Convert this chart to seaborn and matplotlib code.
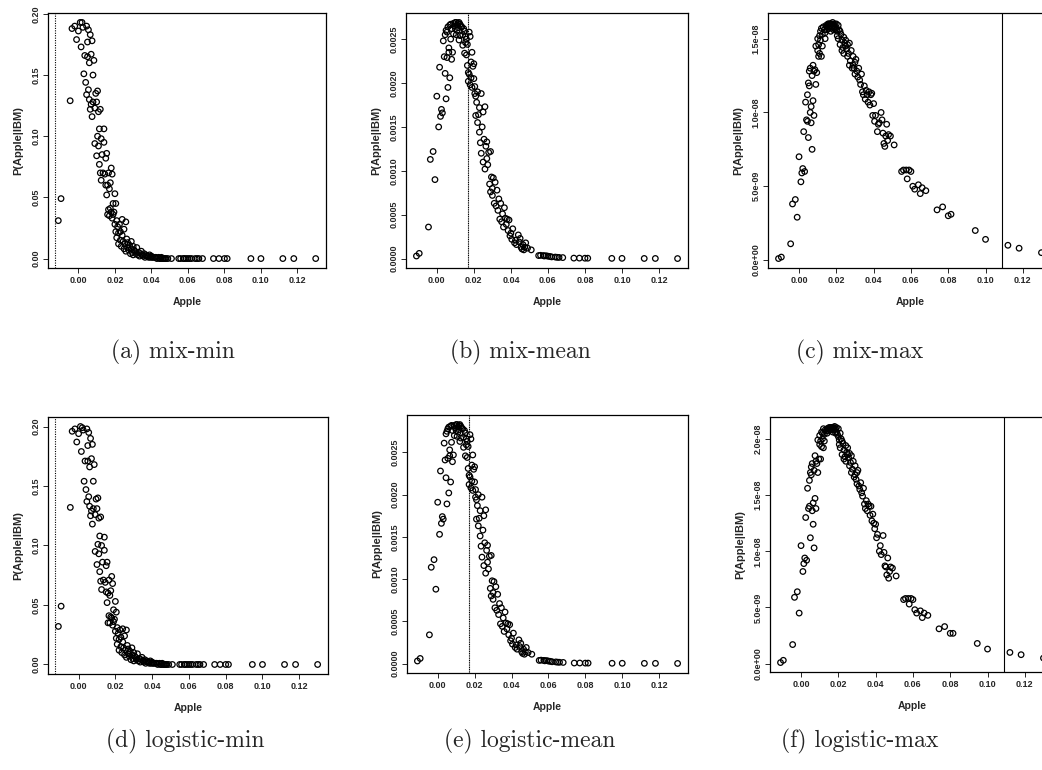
"""
P(Apple|IBM) vs Apple : mix / logistic, min / mean / max
"""

import numpy as np
import pandas as pd
import matplotlib
matplotlib.use('Agg')
import matplotlib.pyplot as plt
import matplotlib.ticker as mticker
import seaborn as sns

sns.set_style("ticks")
plt.rcParams['font.family'] = ['Liberation Sans', 'DejaVu Sans']

# Apple returns (shared x)
apple = [
    -0.0110, -0.0095, -0.0045, -0.0035, -0.0020, -0.0010, 0.0000, 0.0010, 0.0015, 0.0020,
    0.0025, 0.0030, 0.0035, 0.0040, 0.0045, 0.0045, 0.0050, 0.0050, 0.0055, 0.0055,
    0.0060, 0.0060, 0.0065, 0.0065, 0.0070, 0.0070, 0.0075, 0.0075, 0.0080, 0.0080,
    0.0085, 0.0090, 0.0090, 0.0095, 0.0100, 0.0100, 0.0105, 0.0105, 0.0110, 0.0110,
    0.0115, 0.0115, 0.0120, 0.0120, 0.0125, 0.0125, 0.0130, 0.0135, 0.0140, 0.0140,
    0.0145, 0.0150, 0.0150, 0.0155, 0.0155, 0.0160, 0.0160, 0.0165, 0.0165, 0.0170,
    0.0170, 0.0175, 0.0175, 0.0180, 0.0180, 0.0185, 0.0185, 0.0190, 0.0190, 0.0195,
    0.0200, 0.0200, 0.0205, 0.0205, 0.0210, 0.0210, 0.0215, 0.0220, 0.0220, 0.0225,
    0.0230, 0.0230, 0.0235, 0.0240, 0.0240, 0.0245, 0.0250, 0.0250, 0.0255, 0.0260,
    0.0260, 0.0265, 0.0270, 0.0270, 0.0275, 0.0280, 0.0285, 0.0290, 0.0290, 0.0295,
    0.0300, 0.0300, 0.0305, 0.0310, 0.0315, 0.0320, 0.0325, 0.0330, 0.0335, 0.0340,
    0.0345, 0.0350, 0.0355, 0.0360, 0.0365, 0.0370, 0.0375, 0.0380, 0.0385, 0.0390,
    0.0395, 0.0400, 0.0405, 0.0410, 0.0420, 0.0425, 0.0430, 0.0440, 0.0445, 0.0450,
    0.0455, 0.0460, 0.0465, 0.0470, 0.0475, 0.0480, 0.0490, 0.0510,
    0.0550, 0.0560, 0.0575, 0.0580, 0.0590, 0.0600, 0.0610, 0.0620, 0.0640, 0.0650,
    0.0660, 0.0680, 0.0740, 0.0770, 0.0800, 0.0815, 0.0945, 0.1000, 0.1120, 0.1180,
    0.1300,
]

mix_min = [
    0.031, 0.049, 0.129, 0.188, 0.190, 0.179, 0.186, 0.193, 0.173, 0.193,
    0.189, 0.151, 0.166, 0.144, 0.190, 0.134, 0.165, 0.177, 0.138, 0.187,
    0.130, 0.160, 0.122, 0.183, 0.126, 0.167, 0.116, 0.178, 0.150, 0.128,
    0.162, 0.094, 0.123, 0.135, 0.084, 0.128, 0.137, 0.100, 0.092, 0.120,
    0.077, 0.106, 0.070, 0.122, 0.064, 0.098, 0.085, 0.070, 0.095, 0.106,
    0.069, 0.060, 0.082, 0.086, 0.052, 0.060, 0.036, 0.070, 0.040, 0.035,
    0.057, 0.062, 0.041, 0.074, 0.038, 0.033, 0.069, 0.045, 0.036, 0.038,
    0.053, 0.028, 0.045, 0.022, 0.031, 0.017, 0.026, 0.021, 0.012, 0.028,
    0.015, 0.022, 0.010, 0.019, 0.032, 0.014, 0.008, 0.024, 0.012, 0.030,
    0.006, 0.016, 0.009, 0.013, 0.007, 0.011, 0.004, 0.008, 0.014, 0.005,
    0.010, 0.003, 0.007, 0.006, 0.004, 0.009, 0.003, 0.005, 0.002, 0.004,
    0.006, 0.003, 0.002, 0.004, 0.001, 0.003, 0.002, 0.002, 0.001, 0.003,
    0.001, 0.002, 0.001, 0.001, 0.001, 0.001, 0.000, 0.001, 0.000, 0.000,
    0.001, 0.000, 0.000, 0.000, 0.000, 0.000, 0.000, 0.000,
    0.000, 0.000, 0.000, 0.000, 0.000, 0.000, 0.000, 0.000, 0.000, 0.000,
    0.000, 0.000, 0.000, 0.000, 0.000, 0.000, 0.000, 0.000, 0.000, 0.000,
    0.000,
]

# units of 1e-4
mix_mean = [
    0.3, 0.6, 3.6, 11.3, 12.2, 9.0, 18.5, 15.0, 21.8, 16.2,
    17.0, 16.6, 24.8, 23.0, 25.5, 21.1, 26.0, 18.2, 22.9, 25.8,
    26.4, 19.5, 23.5, 24.0, 26.6, 20.6, 25.0, 26.7, 22.7, 26.2,
    23.5, 26.8, 25.6, 26.5, 26.9, 26.2, 25.5, 26.9, 26.6, 26.0,
    26.8, 26.3, 26.9, 24.9, 26.7, 25.4, 26.5, 26.4, 25.5, 24.3,
    26.2, 25.9, 23.4, 25.3, 24.6, 25.0, 23.2, 24.4, 22.0, 21.2,
    20.2, 25.8, 21.0, 25.3, 19.8, 22.4, 20.6, 23.5, 19.5, 21.9,
    22.2, 20.5, 19.6, 18.8, 18.5, 16.3, 17.8, 19.0, 15.5, 16.4,
    14.4, 17.2, 13.2, 18.8, 12.0, 15.0, 11.0, 16.7, 13.6, 10.2,
    17.3, 12.8, 11.4, 13.3, 10.7, 12.1, 8.5, 12.2, 7.6, 9.3,
    8.0, 7.2, 9.2, 6.3, 8.7, 6.0, 7.8, 5.5, 6.8, 4.5,
    6.3, 4.2, 5.1, 3.6, 5.8, 4.6, 3.9, 4.5, 3.2, 4.4,
    2.6, 2.9, 2.2, 3.4, 1.8, 2.1, 1.6, 2.7, 1.9, 2.3,
    1.3, 1.1, 1.6, 1.0, 1.3, 1.8, 1.2, 1.0,
    0.35, 0.38, 0.35, 0.30, 0.33, 0.28, 0.25, 0.20, 0.18, 0.15,
    0.14, 0.12, 0.06, 0.06, 0.05, 0.05, 0.03, 0.03, 0.02, 0.02,
    0.01,
]

# units of 1e-8
mix_max = [
    0.01, 0.02, 0.11, 0.38, 0.41, 0.29, 0.70, 0.53, 0.59, 0.62,
    0.87, 0.60, 1.07, 0.95, 0.94, 1.12, 1.20, 0.83, 1.18, 1.28,
    1.30, 1.00, 1.04, 0.93, 1.25, 0.75, 1.08, 1.32, 0.98, 1.28,
    1.29, 1.45, 1.19, 1.27, 1.50, 1.42, 1.38, 1.46, 1.52, 1.40,
    1.55, 1.49, 1.57, 1.38, 1.53, 1.45, 1.58, 1.56, 1.54, 1.50,
    1.59, 1.58, 1.56, 1.60, 1.59, 1.60, 1.57, 1.60, 1.58, 1.60,
    1.55, 1.60, 1.57, 1.61, 1.58, 1.59, 1.56, 1.60, 1.57, 1.58,
    1.56, 1.60, 1.55, 1.52, 1.59, 1.50, 1.56, 1.55, 1.46, 1.53,
    1.49, 1.42, 1.44, 1.51, 1.40, 1.47, 1.45, 1.49, 1.43, 1.38,
    1.46, 1.40, 1.47, 1.32, 1.35, 1.42, 1.30, 1.38, 1.32, 1.30,
    1.34, 1.26, 1.36, 1.28, 1.24, 1.30, 1.22, 1.19, 1.26, 1.14,
    1.12, 1.18, 1.09, 1.15, 1.12, 1.07, 1.14, 1.05, 1.12, 1.13,
    0.98, 1.06, 0.94, 0.98, 0.87, 0.92, 0.93, 1.00, 0.95, 0.86,
    0.79, 0.77, 0.84, 0.92, 0.81, 0.85, 0.84, 0.78,
    0.60, 0.61, 0.61, 0.55, 0.61, 0.60, 0.50, 0.48, 0.51, 0.45,
    0.49, 0.47, 0.34, 0.36, 0.30, 0.31, 0.20, 0.14, 0.10, 0.08,
    0.05,
]

logistic_min = [
    0.032, 0.049, 0.132, 0.196, 0.198, 0.187, 0.194, 0.200, 0.179, 0.199,
    0.197, 0.154, 0.171, 0.147, 0.198, 0.137, 0.171, 0.184, 0.141, 0.195,
    0.133, 0.166, 0.125, 0.190, 0.129, 0.173, 0.118, 0.185, 0.154, 0.131,
    0.168, 0.095, 0.126, 0.139, 0.084, 0.131, 0.140, 0.101, 0.093, 0.123,
    0.078, 0.108, 0.070, 0.124, 0.063, 0.100, 0.086, 0.071, 0.096, 0.107,
    0.069, 0.061, 0.083, 0.086, 0.052, 0.060, 0.035, 0.071, 0.041, 0.035,
    0.058, 0.062, 0.040, 0.074, 0.039, 0.033, 0.068, 0.046, 0.036, 0.038,
    0.053, 0.028, 0.044, 0.022, 0.031, 0.017, 0.026, 0.021, 0.012, 0.029,
    0.015, 0.023, 0.010, 0.019, 0.030, 0.014, 0.008, 0.024, 0.012, 0.029,
    0.006, 0.016, 0.009, 0.013, 0.007, 0.011, 0.004, 0.008, 0.014, 0.005,
    0.010, 0.003, 0.007, 0.006, 0.004, 0.009, 0.003, 0.005, 0.002, 0.004,
    0.006, 0.003, 0.002, 0.004, 0.001, 0.003, 0.002, 0.002, 0.001, 0.003,
    0.001, 0.002, 0.001, 0.001, 0.001, 0.001, 0.000, 0.001, 0.000, 0.000,
    0.001, 0.000, 0.000, 0.000, 0.000, 0.000, 0.000, 0.000,
    0.000, 0.000, 0.000, 0.000, 0.000, 0.000, 0.000, 0.000, 0.000, 0.000,
    0.000, 0.000, 0.000, 0.000, 0.000, 0.000, 0.000, 0.000, 0.000, 0.000,
    0.000,
]

# units of 1e-4
logistic_mean = [
    0.3, 0.6, 3.4, 11.4, 12.3, 8.8, 19.1, 15.3, 22.8, 16.6,
    17.4, 17.1, 26.1, 24.1, 27.2, 22.0, 27.5, 18.9, 24.3, 27.8,
    28.0, 20.2, 24.6, 25.3, 28.1, 21.5, 26.2, 28.2, 23.9, 27.6,
    24.7, 28.2, 27.0, 27.9, 28.3, 27.6, 26.9, 28.3, 28.0, 27.4,
    28.2, 27.7, 28.3, 26.3, 28.1, 26.7, 27.9, 27.8, 26.8, 25.6,
    27.6, 27.3, 24.6, 26.6, 25.9, 26.3, 24.4, 25.7, 23.1, 22.3,
    21.2, 27.1, 22.1, 26.6, 20.8, 23.5, 21.6, 24.7, 20.5, 23.0,
    23.3, 21.5, 20.6, 19.7, 19.4, 17.1, 18.7, 20.0, 16.3, 17.2,
    15.1, 18.1, 13.9, 19.7, 12.6, 15.8, 11.6, 17.5, 14.3, 10.7,
    18.2, 13.4, 12.0, 14.0, 11.2, 12.7, 8.9, 12.8, 8.0, 9.8,
    8.4, 7.6, 9.7, 6.6, 9.1, 6.3, 8.2, 5.8, 7.1, 4.7,
    6.6, 4.4, 5.4, 3.8, 6.1, 4.8, 4.1, 4.7, 3.4, 4.6,
    2.7, 3.0, 2.3, 3.6, 1.9, 2.2, 1.7, 2.8, 2.0, 2.4,
    1.4, 1.2, 1.7, 1.1, 1.4, 1.9, 1.3, 1.1,
    0.37, 0.40, 0.37, 0.32, 0.35, 0.29, 0.26, 0.21, 0.19, 0.16,
    0.15, 0.13, 0.06, 0.06, 0.05, 0.05, 0.03, 0.03, 0.02, 0.02,
    0.01,
]

# units of 1e-8
logistic_max = [
    0.01, 0.03, 0.17, 0.59, 0.64, 0.45, 1.05, 0.82, 0.89, 0.94,
    1.30, 0.92, 1.56, 1.38, 1.40, 1.63, 1.70, 1.12, 1.68, 1.75,
    1.78, 1.36, 1.43, 1.24, 1.72, 1.03, 1.47, 1.85, 1.38, 1.80,
    1.78, 1.99, 1.70, 1.82, 2.03, 1.95, 1.82, 1.98, 2.06, 1.93,
    2.05, 2.00, 2.09, 1.92, 2.04, 1.98, 2.08, 2.07, 2.09, 2.05,
    2.09, 2.10, 2.07, 2.10, 2.09, 2.10, 2.08, 2.10, 2.09, 2.10,
    2.06, 2.10, 2.08, 2.11, 2.08, 2.09, 2.05, 2.10, 2.06, 2.04,
    2.02, 2.09, 1.99, 1.95, 2.05, 1.92, 2.00, 1.98, 1.86, 1.96,
    1.90, 1.82, 1.84, 1.94, 1.80, 1.88, 1.86, 1.92, 1.83, 1.76,
    1.87, 1.79, 1.85, 1.70, 1.73, 1.80, 1.66, 1.76, 1.68, 1.64,
    1.70, 1.60, 1.72, 1.58, 1.55, 1.61, 1.52, 1.49, 1.56, 1.42,
    1.38, 1.45, 1.36, 1.42, 1.40, 1.32, 1.40, 1.27, 1.33, 1.25,
    1.20, 1.24, 1.12, 1.15, 1.00, 1.05, 0.97, 1.14, 0.99, 0.87,
    0.86, 0.79, 0.94, 0.76, 0.82, 0.86, 0.85, 0.78,
    0.57, 0.58, 0.58, 0.53, 0.58, 0.57, 0.48, 0.45, 0.47, 0.41,
    0.45, 0.43, 0.31, 0.33, 0.27, 0.27, 0.18, 0.13, 0.10, 0.08,
    0.05,
]

# vertical reference lines (min / mean / max)
vline_min = -0.013
vline_mean = 0.017
vline_max = 0.109

captions = ['(a) mix-min', '(b) mix-mean', '(c) mix-max',
            '(d) logistic-min', '(e) logistic-mean', '(f) logistic-max']

W, H = 1042, 770
fig = plt.figure(figsize=(W / 100, H / 100), dpi=100)


def px_axes(left, top, right, bottom):
    return fig.add_axes([left / W, 1 - bottom / H, (right - left) / W, (bottom - top) / H])


panels = [
    # (box, y values, scale, vline, y tick step, y fmt, linestyle)
    ((48, 13, 326, 268), mix_min, 1.0, vline_min, 0.05, '%.2f', (0, (1, 1.2))),
    ((406, 13, 688, 268), mix_mean, 1e-4, vline_mean, 0.0005, '%.4f', (0, (1, 0.6))),
    ((768, 13, 1052, 268), mix_max, 1e-8, vline_max, 0.5e-8, '%.1e', '-'),
    ((48, 417, 328, 674), logistic_min, 1.0, vline_min, 0.05, '%.2f', (0, (1, 1.2))),
    ((407, 415, 688, 673), logistic_mean, 1e-4, vline_mean, 0.0005, '%.4f', (0, (1, 0.6))),
    ((770, 417, 1054, 672), logistic_max, 1e-8, vline_max, 0.5e-8, '%.1e', '-'),
]
cap_x = [173, 520, 860, 185, 530, 860]

for i, (box, yvals, scale, vx, ystep, yfmt, ls) in enumerate(panels):
    ax = px_axes(*box)
    df = pd.DataFrame({'Apple': apple, 'P': np.array(yvals) * scale})
    sns.scatterplot(data=df, x='Apple', y='P', ax=ax, marker='o', s=16,
                    facecolors='none', edgecolor='black', linewidth=0.9)
    ax.axvline(vx, color='black', lw=0.8, ls=ls)

    # R style 4% padding
    xr = df['Apple'].max() - df['Apple'].min()
    yr = df['P'].max() - df['P'].min()
    ax.set_xlim(df['Apple'].min() - 0.04 * xr, df['Apple'].max() + 0.04 * xr)
    ax.set_ylim(df['P'].min() - 0.04 * yr, df['P'].max() + 0.04 * yr)

    ax.xaxis.set_major_locator(mticker.MultipleLocator(0.02))
    ax.xaxis.set_major_formatter(mticker.FormatStrFormatter('%.2f'))
    ax.yaxis.set_major_locator(mticker.MultipleLocator(ystep))
    ax.yaxis.set_major_formatter(mticker.FormatStrFormatter(yfmt))
    ax.tick_params(axis='both', direction='out', length=3.5, width=0.7,
                   labelsize=6.5, pad=2)
    for lab in ax.get_xticklabels() + ax.get_yticklabels():
        lab.set_fontweight('bold')
    for lab in ax.get_yticklabels():
        lab.set_rotation(90)
        lab.set_va('center')
    for sp in ax.spines.values():
        sp.set_linewidth(0.9)
        sp.set_color('black')

    ax.set_xlabel('Apple', fontsize=7.5, fontweight='bold', labelpad=9)
    ax.set_ylabel('P(Apple|IBM)', fontsize=8, fontweight='bold', labelpad=6)

    cy = 352 if i < 3 else 741
    fig.text(cap_x[i] / W, 1 - cy / H, captions[i], ha='center', va='center',
             fontsize=17, family='cmr10')

plt.savefig('out.png', dpi=100)
plt.close()
